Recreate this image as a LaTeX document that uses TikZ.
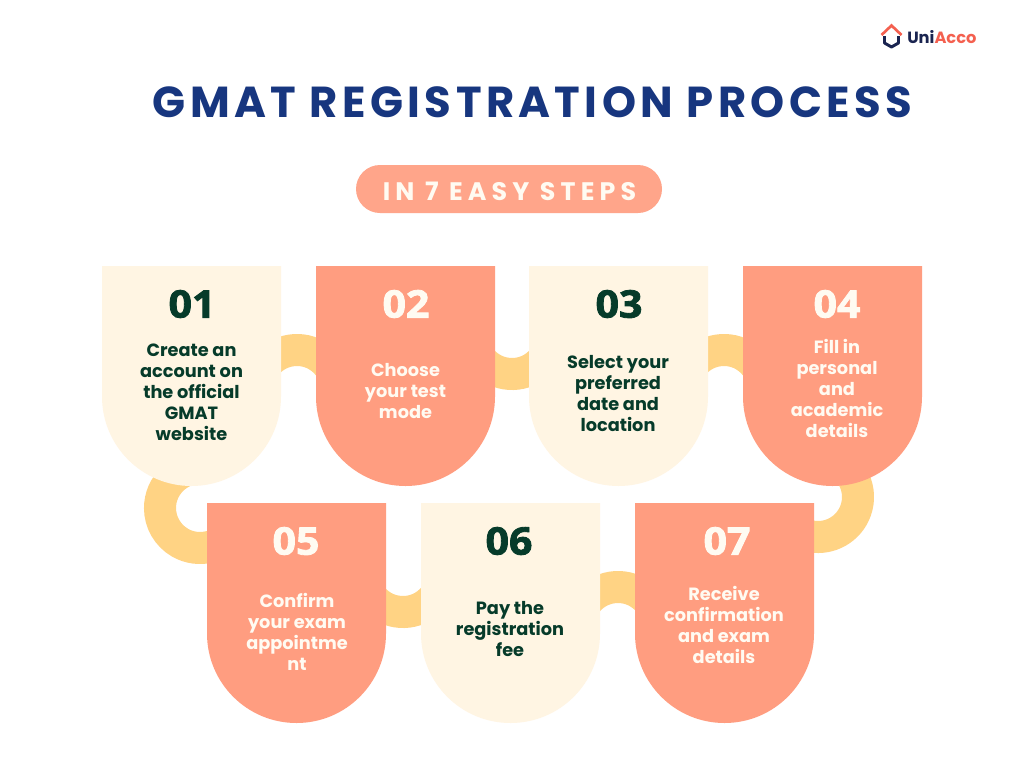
\documentclass[tikz,border=0pt]{standalone}
\usepackage{fontspec}
\setmainfont{Poppins}
\newfontfamily\numf{Open Sans}[FakeBold=2.2,FakeStretch=1.08]
\newfontfamily\titlef{Poppins}[LetterSpace=10.1]
\newfontfamily\pillf{Poppins}[LetterSpace=20.3]
\definecolor{cream}{HTML}{FFF5E3}
\definecolor{coral}{HTML}{FF9D80}
\definecolor{band}{HTML}{FFD384}
\definecolor{forest}{HTML}{063B2A}
\definecolor{navy}{HTML}{17367F}
\definecolor{lightw}{HTML}{FFFBF2}
\definecolor{logored}{HTML}{F4604F}
\definecolor{lognavy}{HTML}{1A2450}
\tikzset{
  x=0.75pt,y=-0.75pt,
  bandarc/.style={draw=band,line width=24pt,line cap=butt},
  numlabel/.style={font=\numf\bfseries\fontsize{28.5pt}{30pt}\selectfont,inner sep=0pt},
  steplabel/.style={font=\bfseries\fontsize{13.3pt}{15.75pt}\selectfont,align=center,inner sep=0pt},
}
% #1 name, #2 left x, #3 top y, #4 fill, #5 text colour, #6 number, #7 num x, #8 num y
\newcommand{\stepcard}[8]{%
  \fill[#4] (#2,#3) -- ++(179,0) -- ++(0,130.5) arc[start angle=0,end angle=-180,radius=67.125pt] -- cycle;
  \node[numlabel,text=#5] (#1n) at (#7,#8) {#6};
}
\begin{document}
\begin{tikzpicture}
\useasboundingbox (0,0) rectangle (1024,768);
\fill[white] (0,0) rectangle (1024,768);

% connecting bands
\coordinate (a12) at (297,390);
\coordinate (a23) at (512,334);
\coordinate (a34) at (724,390);
\coordinate (a45) at (200,508);
\coordinate (a47) at (818,497);
\coordinate (a56) at (403,572);
\coordinate (a67) at (618,627);
\draw[bandarc] (a12) ++(150:30pt) arc[start angle=150,end angle=30,radius=30pt];
\draw[bandarc] (a34) ++(150:30pt) arc[start angle=150,end angle=30,radius=30pt];
\draw[bandarc] (a67) ++(150:30pt) arc[start angle=150,end angle=30,radius=30pt];
\draw[bandarc] (a23) ++(210:30pt) arc[start angle=210,end angle=330,radius=30pt];
\draw[bandarc] (a56) ++(210:30pt) arc[start angle=210,end angle=330,radius=30pt];
\draw[bandarc] (a45) ++(90:30pt) arc[start angle=90,end angle=285,radius=30pt];
\draw[bandarc] (a47) ++(70:30pt) arc[start angle=70,end angle=-100,radius=30pt];

% cards
\stepcard{one}{102}{266}{cream}{forest}{01}{192}{304}
\stepcard{two}{316}{266}{coral}{lightw}{02}{406}{304}
\stepcard{three}{529}{266}{cream}{forest}{03}{619}{304}
\stepcard{four}{743}{266}{coral}{lightw}{04}{837}{304}
\stepcard{five}{207}{503}{coral}{lightw}{05}{296}{541}
\stepcard{six}{421}{503}{cream}{forest}{06}{509}{541}
\stepcard{seven}{635}{503}{coral}{lightw}{07}{727}{541}

\node[steplabel,text=forest] (onet) at (191.5,392) {Create an\\account on\\the official\\GMAT\\website};
\node[steplabel,text=lightw] (twot) at (405.5,391) {Choose\\your test\\mode};
\node[steplabel,text=forest] (threet) at (618,393.5) {Select your\\preferred\\date and\\location};
\node[steplabel,text=lightw] (fourt) at (837,388.5) {Fill in\\personal\\and\\academic\\details};
\node[steplabel,text=lightw] (fivet) at (297,632) {Confirm\\your exam\\appointme\\nt};
\node[steplabel,text=forest] (sixt) at (510,629) {Pay the\\registration\\fee};
\node[steplabel,text=lightw] (sevent) at (724,625) {Receive\\confirmation\\and exam\\details};

% title
\node[inner sep=0pt,text=navy,font=\titlef\bfseries\fontsize{32.5pt}{40pt}\selectfont] (title) at (532.5,102) {GMAT REGISTRATION PROCESS};
\fill[coral!92!white,rounded corners=18pt] (356,165) rectangle (662,213);
\node[inner sep=0pt,text=lightw,font=\pillf\bfseries\fontsize{19pt}{22pt}\selectfont] (pill) at (509.5,191) {IN 7 EASY STEPS};

% logo
\draw[lognavy,line width=2.2pt,line join=round] (884.5,36) -- (884.5,43) -- (891.5,47) -- (898.5,43) -- (898.5,36);
\draw[logored,line width=2pt,line join=miter] (881.5,35) -- (891.5,25.5) -- (901.5,35);
\node[inner sep=0pt,anchor=west,font=\bfseries\fontsize{12.2pt}{14pt}\selectfont] (logo) at (907,37) {\textcolor{lognavy}{Uni}\textcolor{logored}{Acco}};
\end{tikzpicture}
\end{document}
